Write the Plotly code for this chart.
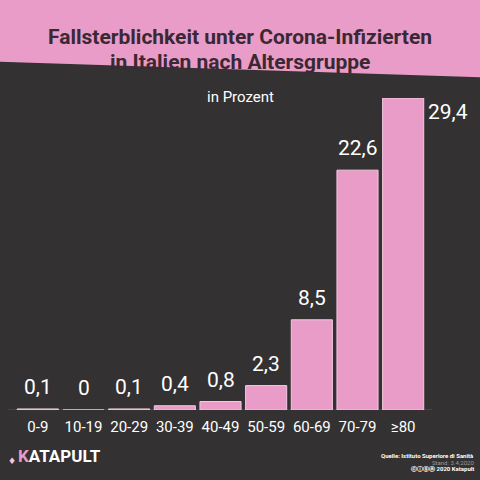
import plotly.graph_objects as go

categories = ["0-9", "10-19", "20-29", "30-39", "40-49", "50-59", "60-69", "70-79", "≥80"]
values = [0.1, 0.0, 0.1, 0.4, 0.8, 2.3, 8.5, 22.6, 29.4]
value_labels = [f"{v:g}".replace(".", ",") for v in values]

title_lines = ["Fallsterblichkeit unter Corona-Infizierten", "in Italien nach Altersgruppe"]
subtitle = "in Prozent"
source = "Quelle: Istituto Superiore di Sanità"
stand = "Stand: 3.4.2020"
copyright_txt = "ⓒⓘⓢⓐ 2020 Katapult"

PINK = "#E89CC7"
BG = "#333132"
DARK = "#3A2833"
COND = "Roboto, 'Liberation Sans Narrow', sans-serif"

W, H = 480, 480
L, R, T, B = 15, 54, 98, 70
pw, ph = W - L - R, H - T - B

def px(x):
    return (x - L) / pw

def py(y):
    return (H - B - y) / ph

fig = go.Figure()
fig.add_trace(go.Bar(
    x=categories, y=values, width=0.9,
    marker=dict(color=PINK, line=dict(color="#F4C9E0", width=1)),
    hoverinfo="skip",
))

annotations = []
for i, (c, v, lab) in enumerate(zip(categories, values, value_labels)):
    if i == len(values) - 1:
        annotations.append(dict(x=c, y=v, xref="x", yref="y", text=lab, showarrow=False,
                                xshift=45, yshift=-14,
                                font=dict(family=COND, size=21, color="white")))
    else:
        annotations.append(dict(x=c, y=v, xref="x", yref="y", text=lab, showarrow=False,
                                yshift=22,
                                font=dict(family=COND, size=21, color="white")))

annotations += [
    dict(x=px(240), y=py(23), xref="paper", yref="paper", text=f"<b>{title_lines[0]}</b>",
         showarrow=False, font=dict(family=COND, size=21, color=DARK)),
    dict(x=px(240), y=py(48), xref="paper", yref="paper", text=f"<b>{title_lines[1]}</b>",
         showarrow=False, font=dict(family=COND, size=21, color=DARK)),
    dict(x=px(240), y=py(86), xref="paper", yref="paper", text=subtitle,
         showarrow=False, font=dict(family=COND, size=15, color="white")),
    dict(x=px(476), y=py(461), xref="paper", yref="paper", text=f"<b>{source}</b>",
         showarrow=False, xanchor="right", font=dict(family="Roboto, sans-serif", size=6, color="white")),
    dict(x=px(476), y=py(467.5), xref="paper", yref="paper", text=stand,
         showarrow=False, xanchor="right", font=dict(family="Roboto, sans-serif", size=6, color="#9a9a9a")),
    dict(x=px(476), y=py(474), xref="paper", yref="paper", text=f"<b>{copyright_txt}</b>",
         showarrow=False, xanchor="right", font=dict(family="Roboto, sans-serif", size=6, color="white")),
    dict(x=px(16), y=py(468), xref="paper", yref="paper",
         text=f"<b><span style='color:{PINK}'>K</span>ATAPULT</b>",
         showarrow=False, xanchor="left", font=dict(family="Roboto, sans-serif", size=17, color="white")),
    dict(x=px(6), y=py(468), xref="paper", yref="paper", text="♦",
         showarrow=False, font=dict(family="DejaVu Sans", size=9, color="#F2C6DE")),
]

hdr = [(0, 0), (480, 0), (480, 77.3), (0, 61.7)]
path = "M " + " L ".join(f"{px(a)} {py(b)}" for a, b in hdr) + " Z"

fig.update_layout(
    width=W, height=H,
    margin=dict(l=L, r=R, t=T, b=B),
    paper_bgcolor=BG, plot_bgcolor=BG,
    showlegend=False,
    xaxis=dict(type="category", range=[-0.5, 8.5], showgrid=False, zeroline=False,
               showline=False, ticks="", tickangle=0, ticklabelstandoff=6,
               tickfont=dict(family=COND, size=15, color="white")),
    yaxis=dict(range=[0, 29.4], showgrid=False, zeroline=False, showticklabels=False,
               showline=False, ticks=""),
    annotations=annotations,
    shapes=[
        dict(type="path", path=path, xref="paper", yref="paper", fillcolor=PINK,
             line=dict(width=0), layer="below"),
        dict(type="line", xref="paper", yref="y", x0=px(8), x1=px(432), y0=0, y1=0,
             line=dict(color="#5a5a5a", width=1), layer="below"),
    ],
)

fig.write_html("out.html", config={"displayModeBar": False},
               post_script="document.body.style.margin='0';document.body.style.overflow='hidden';")
